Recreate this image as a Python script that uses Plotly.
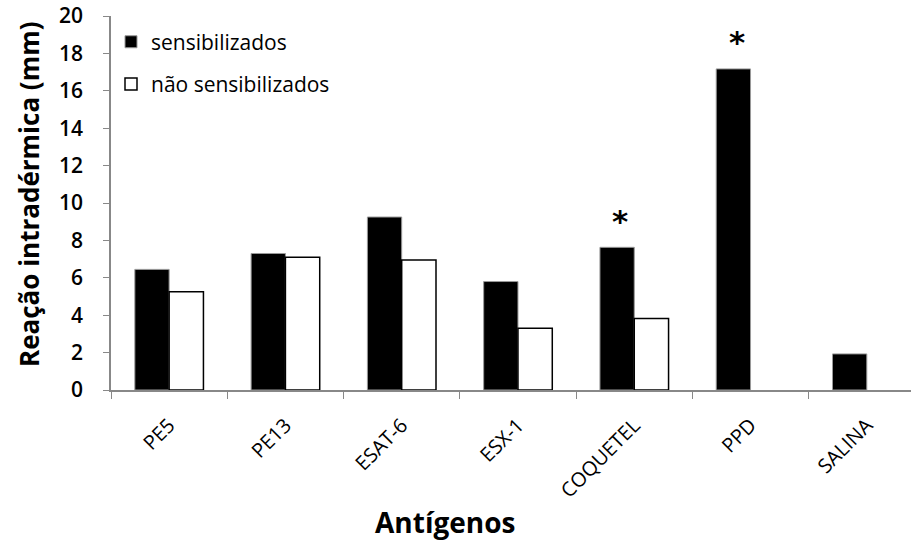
import plotly.graph_objects as go

categories = ["PE5", "PE13", "ESAT-6", "ESX-1", "COQUETEL", "PPD", "SALINA"]
sensibilizados = [6.45, 7.3, 9.25, 5.8, 7.63, 17.17, 1.93]
nao_sensibilizados = [5.26, 7.1, 6.95, 3.3, 3.83, None, None]
y_ticks = [0, 2, 4, 6, 8, 10, 12, 14, 16, 18, 20]
star_categories = ["COQUETEL", "PPD"]
star_values = [9.05, 18.6]
x_title = "Antígenos"
y_title = "Reação intradérmica (mm)"

FONT = "Open Sans"

fig = go.Figure()
fig.add_trace(go.Bar(
    x=categories, y=sensibilizados, name="sensibilizados",
    marker=dict(color="black", line=dict(color="#999999", width=1)),
    legendgroup="a",
))
fig.add_trace(go.Bar(
    x=categories, y=nao_sensibilizados, name="não sensibilizados",
    marker=dict(color="white", line=dict(color="black", width=1.5)),
    legendgroup="b",
))

for c, v in zip(star_categories, star_values):
    fig.add_annotation(
        x=c, y=v, text="<b>*</b>", showarrow=False, xshift=-14,
        font=dict(family="DejaVu Sans", size=31, color="black"),
        yanchor="middle",
    )

fig.add_annotation(
    xref="paper", yref="paper", x=-0.1025, y=0.524, text=f"<b>{y_title}</b>",
    textangle=-90, showarrow=False, xanchor="center", yanchor="middle",
    font=dict(family=FONT, size=26, color="black"),
)
fig.add_annotation(
    xref="paper", yref="paper", x=0.4175, y=-0.353, text=f"<b>{x_title}</b>",
    showarrow=False, xanchor="center", yanchor="middle",
    font=dict(family=FONT, size=28, color="black"),
)

fig.update_layout(
    width=911, height=544,
    margin=dict(l=111, r=0, t=16, b=154, autoexpand=False),
    paper_bgcolor="white", plot_bgcolor="white",
    barmode="group", bargap=0.41, bargroupgap=0,
    showlegend=True,
    legend=dict(
        x=0.0, y=0.985, xanchor="left", yanchor="top",
        font=dict(family=FONT, size=21, color="black"),
        traceorder="grouped", tracegroupgap=12,
        bgcolor="rgba(0,0,0,0)",
    ),
    font=dict(family=FONT, color="black"),
)

fig.update_xaxes(
    range=[-0.5, 6.38], automargin=False,
    showline=True, linecolor="#888888", linewidth=1.5,
    ticks="outside", tickson="boundaries", ticklen=7, tickcolor="#888888",
    tickangle=-45, tickfont=dict(family=FONT, size=20, color="black"),
    ticklabelstandoff=14, ticklabeloverflow="allow",
    showgrid=False, zeroline=False,
)
fig.update_yaxes(
    range=[0, 20], tickvals=y_ticks, automargin=False,
    showline=True, linecolor="#888888", linewidth=1.5,
    ticks="outside", ticklen=6, tickcolor="#888888",
    tickfont=dict(family=FONT, size=21, color="black", weight=600),
    ticklabelstandoff=16, ticklabeloverflow="allow",
    showgrid=False, zeroline=False,
)

fig.write_html(
    "out.html",
    config={"displayModeBar": False},
    post_script="document.body.style.margin='0px';document.body.style.padding='0px';",
)
